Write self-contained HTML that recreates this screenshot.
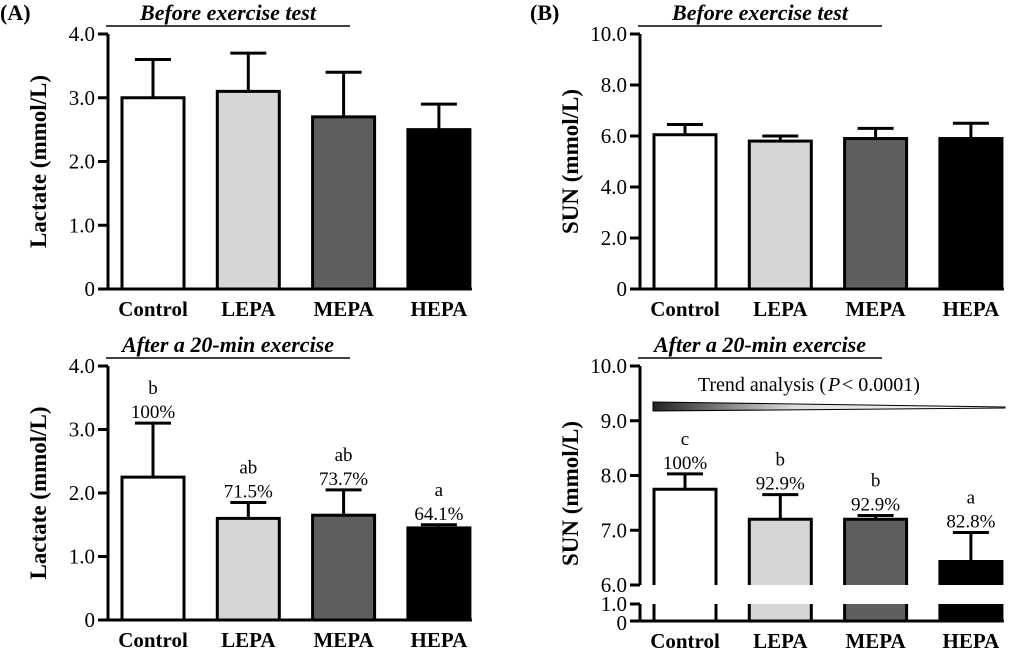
<!DOCTYPE html>
<html><head><meta charset="utf-8"><style>
body{margin:0;background:#fff;}
</style></head><body>
<svg id="fig" width="1024" height="661" viewBox="0 0 1024 661" xmlns="http://www.w3.org/2000/svg" font-family="'Liberation Serif', serif">
<text x="0" y="20" font-size="22" font-weight="bold" font-family="'Liberation Serif', serif">(A)</text>
<text x="530" y="20" font-size="22" font-weight="bold" font-family="'Liberation Serif', serif">(B)</text>
</svg>
<script>
const categories=["Control","LEPA","MEPA","HEPA"];
const fills=["#ffffff","#d6d6d6","#5f5f5f","#000000"];
const lacBefore=[3.0,3.1,2.7,2.5];
const lacBeforeErr=[0.6,0.6,0.7,0.4];
const lacAfter=[2.25,1.6,1.65,1.45];
const lacAfterErr=[0.85,0.25,0.4,0.05];
const lacAfterLetters=["b","ab","ab","a"];
const lacAfterPct=["100%","71.5%","73.7%","64.1%"];
const sunBefore=[6.05,5.8,5.9,5.9];
const sunBeforeErr=[0.4,0.2,0.4,0.6];
const sunAfter=[7.75,7.2,7.2,6.43];
const sunAfterErr=[0.28,0.45,0.07,0.53];
const sunAfterLetters=["c","b","b","a"];
const sunAfterPct=["100%","92.9%","92.9%","82.8%"];
const lacTicks=["0","1.0","2.0","3.0","4.0"];
const sunTicks=["0","2.0","4.0","6.0","8.0","10.0"];
const sunBrokenTicks=["6.0","7.0","8.0","9.0","10.0"];

const svg=document.getElementById('fig');
const NS="http://www.w3.org/2000/svg";
function mk(tag,attrs,name){const e=document.createElementNS(NS,tag);for(const k in attrs)e.setAttribute(k,attrs[k]);


svg.appendChild(e);return e;}
function txt(x,y,s,size,name,extra){const t=mk('text',Object.assign({x:x,y:y,'font-size':size,'font-family':"'Liberation Serif', serif"},extra||{}),name);t.textContent=s;return t;}

function panel(o){
  const ax=o.ax, x0=ax+14, step=95.3, bw=62;
  const xc=i=>x0+bw/2+i*step;
  txt(o.titleX,o.top-14,o.title,22,'panel-title',{'font-weight':'bold','font-style':'italic','text-anchor':'middle'});
  mk('line',{x1:o.titleX-122,x2:o.titleX+122,y1:o.top-8,y2:o.top-8,stroke:'#000','stroke-width':1.5},'title-underline');
  txt(0,0,o.ytitle,23,'y-axis-title',{'font-weight':'bold','text-anchor':'middle',transform:`translate(${ax-62},${(o.top+o.bottom)/2}) rotate(-90)`});
  for(let i=0;i<categories.length;i++){
    const yv=o.y(o.vals[i]), ye=o.y(o.vals[i]+o.errs[i]);
    mk('line',{x1:xc(i),x2:xc(i),y1:yv,y2:ye,stroke:'#000','stroke-width':3},'error-bar-'+categories[i].toLowerCase());
    mk('line',{x1:xc(i)-18,x2:xc(i)+18,y1:ye,y2:ye,stroke:'#000','stroke-width':3},'error-cap-'+categories[i].toLowerCase());
    if(o.broken){
      const yb=o.y(6);
      mk('rect',{x:x0+i*step,y:yv,width:bw,height:yb-yv,fill:fills[i]},'bar-'+categories[i].toLowerCase());
      mk('path',{d:`M${x0+i*step} ${yb}V${yv}H${x0+i*step+bw}V${yb}`,stroke:'#000','stroke-width':3,fill:'none'},'bar-outline');
      mk('rect',{x:x0+i*step,y:o.bottom-17,width:bw,height:17,fill:fills[i]},'bar-lower-'+categories[i].toLowerCase());
      mk('path',{d:`M${x0+i*step} ${o.bottom-17}V${o.bottom}M${x0+i*step+bw} ${o.bottom-17}V${o.bottom}`,stroke:'#000','stroke-width':3,fill:'none'},'bar-lower-edge');
    } else {
      mk('rect',{x:x0+i*step,y:yv,width:bw,height:o.bottom-yv,fill:fills[i],stroke:'#000','stroke-width':3},'bar-'+categories[i].toLowerCase());
    }
    txt(xc(i),o.bottom+27,categories[i],21,'x-label-'+categories[i].toLowerCase(),{'font-weight':'bold','text-anchor':'middle'});
    if(o.letters){
      txt(xc(i),ye-29,o.letters[i],19,'sig-letter',{'text-anchor':'middle'});
      txt(xc(i),ye-5,o.pct[i],19,'percent-label',{'text-anchor':'middle'});
    }
  }
  mk('line',{x1:ax-10,x2:x0+3*step+bw+2,y1:o.bottom,y2:o.bottom,stroke:'#000','stroke-width':3},'x-axis');
  if(o.broken){
    mk('line',{x1:ax,x2:ax,y1:o.top,y2:o.y(6),stroke:'#000','stroke-width':3},'y-axis-upper');
    mk('line',{x1:ax,x2:ax,y1:o.bottom-17,y2:o.bottom,stroke:'#000','stroke-width':3},'y-axis-lower');
    o.ticks.forEach(t=>{const y=o.y(+t);mk('line',{x1:ax-10,x2:ax,y1:y,y2:y,stroke:'#000','stroke-width':3},'y-tick');
      txt(ax-13,y+7,t,21,'y-tick-label',{'text-anchor':'end'});});
    mk('line',{x1:ax-10,x2:ax,y1:o.bottom-17,y2:o.bottom-17,stroke:'#000','stroke-width':3},'y-tick');
    txt(ax-13,o.bottom-10,"1.0",21,'y-tick-label',{'text-anchor':'end'});
    txt(ax-13,o.bottom+9,"0",21,'y-tick-label',{'text-anchor':'end'});
    txt(826,391,"Trend analysis (",20,'trend-label',{'text-anchor':'end'});
    txt(828,391,"P",20,'trend-label-p',{'font-style':'italic'});
    txt(842,391," < 0.0001)",20,'trend-label-value',{'xml:space':'preserve'});
    const defs=mk('defs',{},'defs');
    defs.innerHTML='<linearGradient id="g"><stop offset="0" stop-color="#222"/><stop offset="0.4" stop-color="#ddd"/><stop offset="1" stop-color="#fff"/></linearGradient>';
    mk('polygon',{points:`653,402 1005,407 1005,408 653,411`,fill:'url(#g)',stroke:'#000','stroke-width':1},'trend-wedge');
  } else {
    mk('line',{x1:ax,x2:ax,y1:o.top,y2:o.bottom,stroke:'#000','stroke-width':3},'y-axis');
    o.ticks.forEach(t=>{const y=o.y(+t);mk('line',{x1:ax-10,x2:ax,y1:y,y2:y,stroke:'#000','stroke-width':3},'y-tick');
      txt(ax-13,y+7,t,21,'y-tick-label',{'text-anchor':'end'});});
  }
}
panel({ax:108,top:34,bottom:289,y:v=>289-v*255/4,vals:lacBefore,errs:lacBeforeErr,ticks:lacTicks,title:"Before exercise test",titleX:228,ytitle:"Lactate (mmol/L)"});
panel({ax:108,top:366,bottom:620,y:v=>620-v*254/4,vals:lacAfter,errs:lacAfterErr,ticks:lacTicks,title:"After a 20-min exercise",titleX:228,ytitle:"Lactate (mmol/L)",letters:lacAfterLetters,pct:lacAfterPct});
panel({ax:640,top:34,bottom:289,y:v=>289-v*255/10,vals:sunBefore,errs:sunBeforeErr,ticks:sunTicks,title:"Before exercise test",titleX:760,ytitle:"SUN (mmol/L)"});
panel({ax:640,top:366,bottom:621,y:v=>585-(v-6)*54.75,vals:sunAfter,errs:sunAfterErr,ticks:sunBrokenTicks,title:"After a 20-min exercise",titleX:760,ytitle:"SUN (mmol/L)",letters:sunAfterLetters,pct:sunAfterPct,broken:true});
</script>
</body></html>
